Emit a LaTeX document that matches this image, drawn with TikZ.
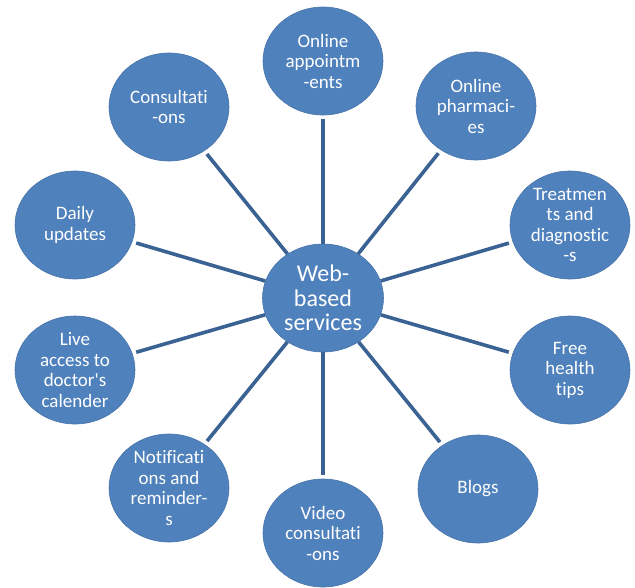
\documentclass[tikz,border=0pt]{standalone}
\usepackage{fontspec}
\setmainfont[Ligatures={TeX,NoCommon}]{Carlito}
\usetikzlibrary{shapes.geometric}
\definecolor{hubblue}{HTML}{4F81BD}
\definecolor{linkblue}{HTML}{3A6394}
\tikzset{
  leaf/.style={ellipse, fill=hubblue, draw=hubblue!90!black, line width=0.6pt,
    minimum width=120pt, minimum height=108pt, inner sep=0pt,
    text=white, align=center, font=\fontsize{19}{20.5}\selectfont},
  hub/.style={leaf, minimum width=121pt, minimum height=108pt,
    font=\fontsize{24}{24.5}\selectfont},
  link/.style={draw=linkblue, line width=3.6pt, shorten >=4pt}
}
\begin{document}
\begin{tikzpicture}[x=1pt,y=-1pt]
\useasboundingbox (0,0) rectangle (635,587);
\fill[white] (0,0) rectangle (635,587);

\node[hub]  (hub)   at (323,298) {Web-\\based\\services};

\node[leaf] (appt)  at (323,61)  {Online\\appointm\\-ents};
\node[leaf] (pharm) at (476,106) {Online\\pharmaci-\\es};
\node[leaf] (treat) at (570,225) {Treatmen\\ts and\\diagnostic\\-s};
\node[leaf] (tips)  at (570,370) {Free\\health\\tips};
\node[leaf] (blogs) at (478,489) {Blogs};
\node[leaf] (video) at (323,533) {Video\\consultati\\-ons};
\node[leaf] (notif) at (169,488) {Notificati\\ons and\\reminder-\\s};
\node[leaf] (live)  at (75,370)  {Live\\access to\\doctor\textquotesingle s\\calender};
\node[leaf] (daily) at (75,225)  {Daily\\updates};
\node[leaf] (cons)  at (169,107) {Consultati\\-ons};

\foreach \n in {appt,pharm,treat,tips,blogs,video,notif,live,daily,cons}
  \draw[link] (hub) -- (\n);
\end{tikzpicture}
\end{document}
